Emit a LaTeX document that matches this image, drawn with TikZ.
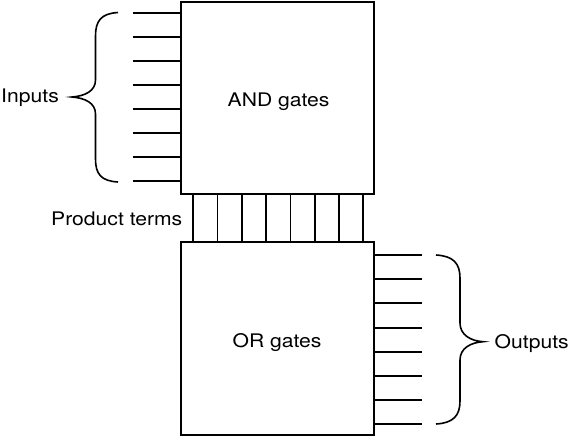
\documentclass[tikz,border=0pt]{standalone}
\usepackage{fontspec}
\setmainfont{TeX Gyre Heros}
\newfontfamily\lblfont[FakeStretch=1.13]{TeX Gyre Heros}
\begin{document}
\begin{tikzpicture}[x=1pt,y=1pt,
  box/.style={draw, line width=1.8pt, inner sep=0pt},
  wire/.style={line width=1.9pt},
  bracepath/.style={line width=1.6pt},
  lbl/.style={inner sep=0pt, font=\lblfont\fontsize{18.7}{20}\selectfont}]
\useasboundingbox (0,0) rectangle (570,-437);
\node[box, minimum width=193.5pt, minimum height=192pt] (and) at (277.5,-98) {};
\node[box, minimum width=193.5pt, minimum height=193pt] (or) at (277.5,-338.5) {};
\node[lbl, anchor=base] (andt) at (278.6,-106) {AND gates};
\node[lbl, anchor=base] (ort) at (277,-347.5) {OR gates};
\foreach \i/\y in {1/12.7,2/36.8,3/60.9,4/85,5/109.1,6/133.2,7/157.3,8/181.4}{
  \coordinate (in\i) at (133,-\y);
  \draw[wire] (in\i) -- (in\i -| and.west);
}
\foreach \i/\y in {1/255,2/279.2,3/303.4,4/327.6,5/351.8,6/376,7/400.2,8/424.4}{
  \coordinate (out\i) at (422,-\y);
  \draw[wire] (out\i -| or.east) -- (out\i);
}
\foreach \i/\x in {1/193.3,2/217.5,3/241.7,4/266,5/290.5,6/314.8,7/339,8/362.8}{
  \coordinate (pt\i) at (\x,-218);
  \draw[wire] (pt\i |- and.south) -- (pt\i |- or.north);
}
\draw[bracepath] (118,-12.5) .. controls (101,-13.5) and (95.5,-21) .. (95.5,-36)
  -- (95.5,-80) .. controls (95.5,-91) and (85,-96) .. (72,-97)
  .. controls (85,-98) and (95.5,-103) .. (95.5,-114)
  -- (95.5,-159) .. controls (95.5,-174) and (101,-181) .. (118,-182);
\draw[bracepath] (436,-255) .. controls (453,-256) and (460,-263) .. (460,-278)
  -- (460,-323) .. controls (460,-335) and (471,-341) .. (483,-341.7)
  .. controls (471,-342.5) and (460,-348) .. (460,-360)
  -- (460,-401) .. controls (460,-416) and (453,-423) .. (436,-424);
\node[lbl, anchor=base west] (inputs) at (1,-102.7) {Inputs};
\node[lbl, anchor=base west] (outputs) at (494.5,-348.3) {Outputs};
\node[lbl, anchor=base east] (prod) at (182.5,-225.7) {Product terms};
\end{tikzpicture}
\end{document}
